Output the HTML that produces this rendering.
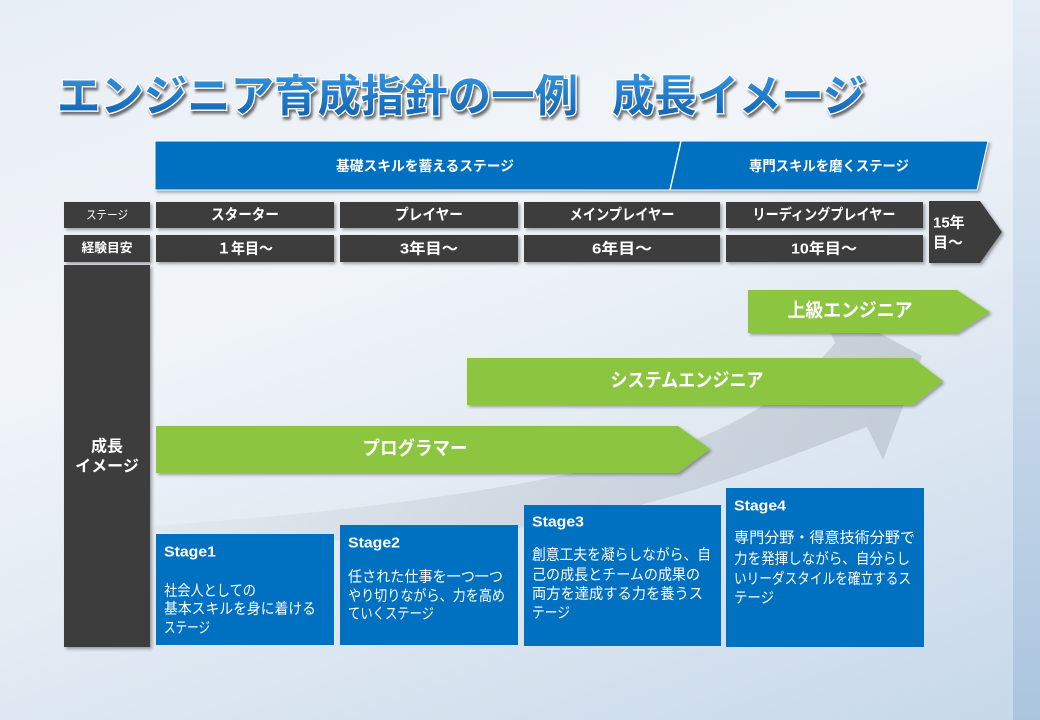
<!DOCTYPE html>
<html lang="ja">
<head>
<meta charset="utf-8">
<style>
  html,body{margin:0;padding:0;}
  body{width:1040px;height:720px;overflow:hidden;
    background:linear-gradient(160deg,#e8eef5 0%,#f1f5f9 35%,#dde7f1 68%,#c6d8ea 100%);
    font-family:"Liberation Sans","Noto Sans CJK JP",sans-serif;}
  svg{position:absolute;left:0;top:0;}
  text{font-family:"Liberation Sans","Noto Sans CJK JP",sans-serif;}
</style>
</head>
<body>
<svg width="1040" height="720" viewBox="0 0 1040 720" xmlns="http://www.w3.org/2000/svg">
  <defs>
    <filter id="sh" x="-10%" y="-20%" width="130%" height="160%">
      <feDropShadow dx="2" dy="2" stdDeviation="1.5" flood-color="#000" flood-opacity="0.35"/>
    </filter>
    <filter id="tsh" x="-5%" y="-20%" width="110%" height="160%">
      <feDropShadow dx="2" dy="3" stdDeviation="1.2" flood-color="#000" flood-opacity="0.55"/>
    </filter>
    <linearGradient id="tg" x1="0" y1="0" x2="0" y2="1">
      <stop offset="0" stop-color="#3596e2"/>
      <stop offset="1" stop-color="#0e5fae"/>
    </linearGradient>
    <linearGradient id="ag" x1="150" y1="0" x2="920" y2="0" gradientUnits="userSpaceOnUse">
      <stop offset="0" stop-color="#aab3bd" stop-opacity="0.08"/>
      <stop offset="0.5" stop-color="#aab3bd" stop-opacity="0.3"/>
      <stop offset="1" stop-color="#aab3bd" stop-opacity="0.5"/>
    </linearGradient>
    <linearGradient id="rs" x1="0" y1="0" x2="0" y2="1">
      <stop offset="0" stop-color="#e2ebf4"/>
      <stop offset="1" stop-color="#a8c3de"/>
    </linearGradient>
  </defs>

  <!-- right strip -->
  <rect x="1013" y="0" width="27" height="720" fill="url(#rs)" opacity="0.9"/>

  <!-- Title -->
  <g filter="url(#tsh)">
    <text x="57" y="111" font-size="44" font-weight="bold" fill="url(#tg)" stroke="#ffffff" stroke-width="2.5" paint-order="stroke" textLength="521" lengthAdjust="spacingAndGlyphs">エンジニア育成指針の一例</text>
    <text x="612" y="111" font-size="44" font-weight="bold" fill="url(#tg)" stroke="#ffffff" stroke-width="2.5" paint-order="stroke" textLength="253" lengthAdjust="spacingAndGlyphs">成長イメージ</text>
  </g>

  <!-- Banner -->
  <polygon points="155,141 988,141 977,190 155,190" fill="#0070c0" stroke="#ffffff" stroke-width="1" filter="url(#sh)"/>
  <line x1="681" y1="141" x2="670" y2="190" stroke="#ffffff" stroke-width="1.5"/>
  <text x="425" y="166" font-size="14" font-weight="bold" fill="#fff" text-anchor="middle" dominant-baseline="central" textLength="178" lengthAdjust="spacingAndGlyphs">基礎スキルを蓄えるステージ</text>
  <text x="829" y="166" font-size="14" font-weight="bold" fill="#fff" text-anchor="middle" dominant-baseline="central" textLength="160" lengthAdjust="spacingAndGlyphs">専門スキルを磨くステージ</text>

  <!-- Dark boxes -->
  <g fill="#3d3d3d" filter="url(#sh)">
    <rect x="64" y="202" width="86" height="26"/>
    <rect x="64" y="235" width="86" height="27"/>
    <rect x="64" y="265" width="86" height="382"/>
    <rect x="156" y="202" width="178" height="26"/>
    <rect x="340" y="202" width="178" height="26"/>
    <rect x="524" y="202" width="196" height="26"/>
    <rect x="726" y="202" width="197" height="26"/>
    <rect x="156" y="235" width="178" height="27"/>
    <rect x="340" y="235" width="178" height="27"/>
    <rect x="524" y="235" width="196" height="27"/>
    <rect x="726" y="235" width="197" height="27"/>
    <polygon points="929,201 980,201 1002,232 980,263 929,263"/>
  </g>

  <g fill="#fff">
    <text x="107" y="215" font-size="12" text-anchor="middle" dominant-baseline="central" textLength="42" lengthAdjust="spacingAndGlyphs">ステージ</text>
    <text x="107" y="248" font-size="12.5" font-weight="bold" text-anchor="middle" dominant-baseline="central" textLength="51" lengthAdjust="spacingAndGlyphs">経験目安</text>

    <text x="245" y="215" font-size="15" font-weight="bold" text-anchor="middle" dominant-baseline="central" textLength="68" lengthAdjust="spacingAndGlyphs">スターター</text>
    <text x="429" y="215" font-size="15" font-weight="bold" text-anchor="middle" dominant-baseline="central" textLength="68" lengthAdjust="spacingAndGlyphs">プレイヤー</text>
    <text x="622" y="215" font-size="15" font-weight="bold" text-anchor="middle" dominant-baseline="central" textLength="105" lengthAdjust="spacingAndGlyphs">メインプレイヤー</text>
    <text x="824" y="215" font-size="15" font-weight="bold" text-anchor="middle" dominant-baseline="central" textLength="143" lengthAdjust="spacingAndGlyphs">リーディングプレイヤー</text>

    <text x="245" y="249" font-size="15" font-weight="bold" text-anchor="middle" dominant-baseline="central" textLength="56" lengthAdjust="spacingAndGlyphs">１年目～</text>
    <text x="429" y="249" font-size="15" font-weight="bold" text-anchor="middle" dominant-baseline="central" textLength="58" lengthAdjust="spacingAndGlyphs">3年目～</text>
    <text x="622" y="249" font-size="15" font-weight="bold" text-anchor="middle" dominant-baseline="central" textLength="60" lengthAdjust="spacingAndGlyphs">6年目～</text>
    <text x="824" y="249" font-size="15" font-weight="bold" text-anchor="middle" dominant-baseline="central" textLength="66" lengthAdjust="spacingAndGlyphs">10年目～</text>

    <text x="933" y="223" font-size="15" font-weight="bold" dominant-baseline="central">15年</text>
    <text x="933" y="243" font-size="15" font-weight="bold" dominant-baseline="central">目～</text>

    <text x="107" y="447" font-size="16" font-weight="bold" text-anchor="middle" dominant-baseline="central">成長</text>
    <text x="107" y="467" font-size="16" font-weight="bold" text-anchor="middle" dominant-baseline="central">イメージ</text>
  </g>

  <!-- background grey growth arrow -->
  <path d="M150,526 C320,515 520,492 660,452 C740,427 800,387 835,343 L818,300 L922,356 L883,460 L867,427 C790,455 690,500 560,522 C420,545 260,545 150,530 Z" fill="url(#ag)"/>

  <!-- Green arrows -->
  <g fill="#8cc63f" filter="url(#sh)">
    <polygon points="748,290 957,290 990,312 957,333 748,333"/>
    <polygon points="467,358 913,358 943,381 913,405 467,405"/>
    <polygon points="156,426 678,426 710,449 678,473 156,473"/>
  </g>
  <g fill="#fff" font-weight="bold" font-size="19">
    <text x="850" y="311" text-anchor="middle" dominant-baseline="central" textLength="125" lengthAdjust="spacingAndGlyphs">上級エンジニア</text>
    <text x="687" y="381" text-anchor="middle" dominant-baseline="central" textLength="153" lengthAdjust="spacingAndGlyphs">システムエンジニア</text>
    <text x="415" y="449" text-anchor="middle" dominant-baseline="central" textLength="105" lengthAdjust="spacingAndGlyphs">プログラマー</text>
  </g>

  <!-- Stage boxes -->
  <g fill="#0070c0">
    <rect x="156" y="534" width="178" height="111"/>
    <rect x="340" y="525" width="178" height="120"/>
    <rect x="524" y="505" width="197" height="141"/>
    <rect x="726" y="488" width="198" height="159"/>
  </g>
  <g fill="#fff">
    <text x="164" y="552" font-size="15" font-weight="bold" dominant-baseline="central" textLength="52" lengthAdjust="spacingAndGlyphs">Stage1</text>
    <text x="164" y="591" font-size="15" dominant-baseline="central" textLength="92" lengthAdjust="spacingAndGlyphs">社会人としての</text>
    <text x="164" y="609" font-size="15" dominant-baseline="central" textLength="152" lengthAdjust="spacingAndGlyphs">基本スキルを身に着ける</text>
    <text x="164" y="628" font-size="15" dominant-baseline="central" textLength="46" lengthAdjust="spacingAndGlyphs">ステージ</text>

    <text x="348" y="543" font-size="15" font-weight="bold" dominant-baseline="central" textLength="52" lengthAdjust="spacingAndGlyphs">Stage2</text>
    <text x="348" y="577" font-size="15" dominant-baseline="central" textLength="155" lengthAdjust="spacingAndGlyphs">任された仕事を一つ一つ</text>
    <text x="348" y="596" font-size="15" dominant-baseline="central" textLength="157" lengthAdjust="spacingAndGlyphs">やり切りながら、力を高め</text>
    <text x="348" y="614" font-size="15" dominant-baseline="central" textLength="86" lengthAdjust="spacingAndGlyphs">ていくステージ</text>

    <text x="532" y="522" font-size="15" font-weight="bold" dominant-baseline="central" textLength="52" lengthAdjust="spacingAndGlyphs">Stage3</text>
    <text x="532" y="555" font-size="15" dominant-baseline="central" textLength="179" lengthAdjust="spacingAndGlyphs">創意工夫を凝らしながら、自</text>
    <text x="532" y="575" font-size="15" dominant-baseline="central" textLength="168" lengthAdjust="spacingAndGlyphs">己の成長とチームの成果の</text>
    <text x="532" y="594" font-size="15" dominant-baseline="central" textLength="171" lengthAdjust="spacingAndGlyphs">両方を達成する力を養うス</text>
    <text x="532" y="613" font-size="15" dominant-baseline="central" textLength="38" lengthAdjust="spacingAndGlyphs">テージ</text>

    <text x="734" y="506" font-size="15" font-weight="bold" dominant-baseline="central" textLength="52" lengthAdjust="spacingAndGlyphs">Stage4</text>
    <text x="734" y="538" font-size="15" dominant-baseline="central" textLength="181" lengthAdjust="spacingAndGlyphs">専門分野・得意技術分野で</text>
    <text x="734" y="559" font-size="15" dominant-baseline="central" textLength="176" lengthAdjust="spacingAndGlyphs">力を発揮しながら、自分らし</text>
    <text x="734" y="579" font-size="15" dominant-baseline="central" textLength="177" lengthAdjust="spacingAndGlyphs">いリーダスタイルを確立するス</text>
    <text x="734" y="598" font-size="15" dominant-baseline="central" textLength="40" lengthAdjust="spacingAndGlyphs">テージ</text>
  </g>
</svg>
</body>
</html>
